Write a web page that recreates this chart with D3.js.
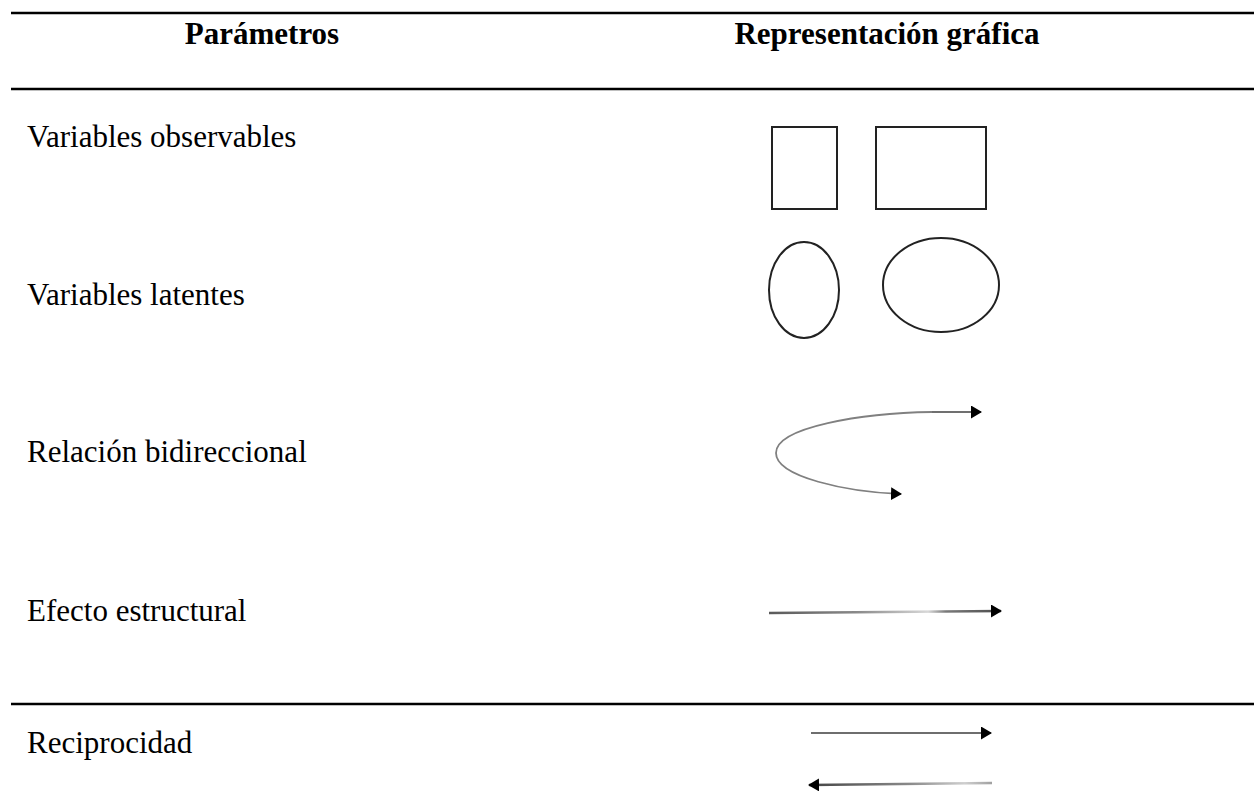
<!DOCTYPE html>
<html>
<head>
<meta charset="utf-8">
<script src="https://cdn.jsdelivr.net/npm/d3@7"></script>
<style>
  body { margin: 0; background: #fff; }
  text { font-family: "Liberation Serif", "Times New Roman", serif; fill: #000; }
</style>
</head>
<body>
<script>
var headers = ["Parámetros", "Representación gráfica"];
var rows = ["Variables observables", "Variables latentes", "Relación bidireccional", "Efecto estructural", "Reciprocidad"];
var symbols = ["rect", "ellipse", "curve", "arrow", "pair"];
var ruleAfter = ["header", "Efecto estructural"];

var width = 1254, height = 808;

var svg = d3.select("body").append("svg")
    .attr("width", width)
    .attr("height", height);

var defs = svg.append("defs");

// arrow head
defs.append("marker")
    .attr("id", "head")
    .attr("markerUnits", "userSpaceOnUse")
    .attr("viewBox", "0 -6.5 11 13")
    .attr("refX", 10)
    .attr("refY", 0)
    .attr("markerWidth", 11)
    .attr("markerHeight", 13)
    .attr("orient", "auto")
  .append("path")
    .attr("d", "M0,-6.5L11,0L0,6.5z")
    .style("fill", "#000");

function grad(id, x1, x2, stops) {
  var g = defs.append("linearGradient")
      .attr("id", id)
      .attr("gradientUnits", "userSpaceOnUse")
      .attr("x1", x1).attr("x2", x2)
      .attr("y1", 0).attr("y2", 0);
  stops.forEach(function(s) {
    g.append("stop").attr("offset", s[0]).attr("stop-color", s[1]);
  });
}

// column and row scales
var x = d3.scaleOrdinal().domain(headers).range([262, 887]);
var y = d3.scaleOrdinal().domain(rows).range([138, 296, 453, 612, 744]);
var rule = d3.scaleOrdinal().domain(["top"].concat(ruleAfter)).range([13, 89, 704]);

// horizontal rules
svg.selectAll(".rule")
    .data(rule.domain())
  .enter().append("line")
    .attr("class", "rule")
    .attr("x1", 11)
    .attr("x2", width)
    .attr("y1", function(d) { return rule(d); })
    .attr("y2", function(d) { return rule(d); })
    .style("stroke", "#000")
    .style("stroke-width", "2.6px");

// header
svg.selectAll(".head")
    .data(headers)
  .enter().append("text")
    .attr("class", "head")
    .attr("x", function(d) { return x(d); })
    .attr("y", 44)
    .attr("text-anchor", "middle")
    .style("font-weight", "bold")
    .style("font-size", "31px")
    .text(function(d) { return d; });

// row labels
svg.selectAll(".label")
    .data(rows)
  .enter().append("text")
    .attr("class", "label")
    .attr("x", 27)
    .attr("y", function(d) { return y(d) + 9; })
    .style("font-size", "31px")
    .text(function(d) { return d; });

var cx = x(headers[1]);

// symbols
rows.forEach(function(r, i) {
  var cy = y(r), g = svg.append("g").attr("class", "sym");
  var kind = symbols[i];

  if (kind === "rect") {
    g.append("rect")
        .attr("x", cx - 115).attr("y", cy - 11)
        .attr("width", 65).attr("height", 82)
        .style("fill", "none").style("stroke", "#222").style("stroke-width", "2px");
    g.append("rect")
        .attr("x", cx - 11).attr("y", cy - 11)
        .attr("width", 110).attr("height", 82)
        .style("fill", "none").style("stroke", "#222").style("stroke-width", "2px");
  }

  if (kind === "ellipse") {
    g.append("ellipse")
        .attr("cx", cx - 83).attr("cy", cy - 6)
        .attr("rx", 35).attr("ry", 48)
        .style("fill", "none").style("stroke", "#222").style("stroke-width", "2px");
    g.append("ellipse")
        .attr("cx", cx + 54).attr("cy", cy - 11)
        .attr("rx", 58).attr("ry", 47)
        .style("fill", "none").style("stroke", "#222").style("stroke-width", "2px");
  }

  if (kind === "curve") {
    g.append("path")
        .attr("d", "M" + (cx + 45) + "," + (cy - 41) +
                   "C" + (cx - 25) + "," + (cy - 40) + " " + (cx - 111) + "," + (cy - 26) + " " + (cx - 111) + "," + cy +
                   "C" + (cx - 111) + "," + (cy + 24) + " " + (cx - 40) + "," + (cy + 39) + " " + (cx + 14) + "," + (cy + 41))
        .style("fill", "none").style("stroke", "#808080").style("stroke-width", "1.8px")
        .attr("marker-end", "url(#head)");
    g.append("path")
        .attr("d", "M" + (cx + 45) + "," + (cy - 41) + "L" + (cx + 94) + "," + (cy - 41))
        .style("fill", "none").style("stroke", "#707070").style("stroke-width", "1.8px")
        .attr("marker-end", "url(#head)");
  }

  if (kind === "arrow") {
    grad("g-effect", cx - 118, cx + 103, [[0, "#5a5a5a"], [0.4, "#8a8a8a"], [0.72, "#d8d8d8"], [0.8, "#7a7a7a"], [1, "#555"]]);
    g.append("line")
        .attr("x1", cx - 118).attr("y1", cy + 1)
        .attr("x2", cx + 114).attr("y2", cy - 1)
        .style("stroke", "url(#g-effect)").style("stroke-width", "2.5px")
        .attr("marker-end", "url(#head)");
  }

  if (kind === "pair") {
    g.append("line")
        .attr("x1", cx - 76).attr("y1", cy - 11)
        .attr("x2", cx + 104).attr("y2", cy - 11)
        .style("stroke", "#6e6e6e").style("stroke-width", "2.2px")
        .attr("marker-end", "url(#head)");
    grad("g-back", cx - 78, cx + 105, [[0, "#444"], [0.55, "#8a8a8a"], [0.85, "#cfcfcf"], [1, "#a0a0a0"]]);
    g.append("line")
        .attr("x1", cx + 105).attr("y1", cy + 39)
        .attr("x2", cx - 78).attr("y2", cy + 41)
        .style("stroke", "url(#g-back)").style("stroke-width", "2.4px")
        .attr("marker-end", "url(#head)");
  }
});
</script>
</body>
</html>
